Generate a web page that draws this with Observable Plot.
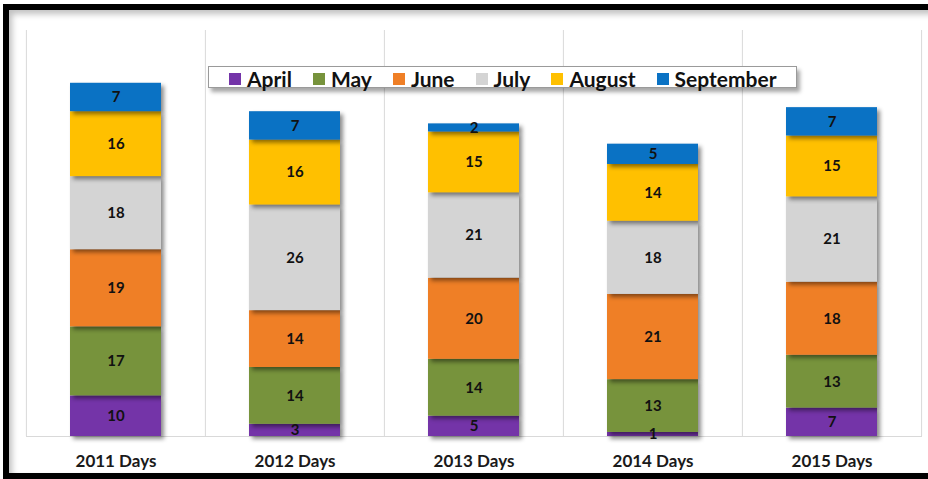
<!DOCTYPE html>
<html><head><meta charset="utf-8">
<script src="https://cdn.jsdelivr.net/npm/d3@7"></script>
<script src="https://cdn.jsdelivr.net/npm/@observablehq/plot@0.6"></script>
<style>
body{margin:0;background:#fff;font-family:Lato,"Open Sans",sans-serif}
#wrap{position:relative;width:928px;height:479px;overflow:hidden;background:#fff}
#frame{position:absolute;left:3px;top:4px;width:960px;height:475px;border:6px solid #000;box-sizing:border-box;box-shadow:inset 3px 4px 6px rgba(0,0,0,.25);pointer-events:none}
#legend{position:absolute;left:208px;top:66px;width:589px;height:22px;box-sizing:border-box;border:1px solid #9a9a9a;background:#fff;box-shadow:3px 4px 4px rgba(0,0,0,.35);display:flex;align-items:center;padding-left:20px;padding-top:3px;font-weight:700;font-size:21px;line-height:18px;color:#111}
#legend .it{display:flex;align-items:center;margin-right:21px}
#legend .sw{width:12px;height:12px;margin-right:6px}
g[aria-label="bar"] rect{filter:drop-shadow(3px 3px 2px rgba(0,0,0,.45))}
</style>
</head><body>
<div id="wrap"><div id="chart"></div><div id="legend"></div><div id="frame"></div></div>
<script>
const years = ["2011 Days","2012 Days","2013 Days","2014 Days","2015 Days"];
const months = ["April","May","June","July","August","September"];
const april = [10,3,5,1,7];
const may = [17,14,14,13,13];
const june = [19,14,20,21,18];
const july = [18,26,21,18,21];
const august = [16,16,15,14,15];
const september = [7,7,2,5,7];
const colors = ["#7434a8","#77933c","#ef7f26","#d4d4d4","#ffc000","#0a72c4"];

const series = [april, may, june, july, august, september];
const rows = [];
years.forEach((y, i) => months.forEach((m, j) => rows.push({year: y, month: m, value: series[j][i]})));

const step = (928 - 26 - 6) / years.length;

const chart = Plot.plot({
  width: 928, height: 479,
  marginLeft: 26, marginRight: 6, marginTop: 30, marginBottom: 43,
  style: {fontFamily: "Lato, sans-serif", background: "transparent"},
  x: {domain: years, paddingInner: 0.49, paddingOuter: 0.245, label: null},
  y: {domain: [0, 100], axis: null},
  color: {domain: months, range: colors},
  marks: [
    Plot.ruleX(years, {x: d => d, y1: 0, y2: 100, dx: -step/2, stroke: "#d9d9d9"}),
    Plot.ruleX(years.slice(-1), {x: d => d, y1: 0, y2: 100, dx: step/2, stroke: "#d9d9d9"}),
    Plot.ruleY([0], {stroke: "#d9d9d9"}),
    Plot.barY(rows, {x: "year", y: "value", z: "month", fill: "month", order: null}),
    Plot.text(rows, Plot.stackY({x: "year", y: "value", z: "month", text: d => String(d.value), order: null, fill: "#111", fontWeight: 700, fontSize: 15})),
    Plot.axisX({tickSize: 0, tickPadding: 18, fontSize: 17, fontWeight: 700, fill: "#1a1a1a"})
  ]
});
document.getElementById("chart").appendChild(chart);

const lg = document.getElementById("legend");
months.forEach((m, i) => {
  const it = document.createElement("div"); it.className = "it";
  const sw = document.createElement("span"); sw.className = "sw"; sw.style.background = colors[i];
  const t = document.createElement("span"); t.textContent = m;
  it.appendChild(sw); it.appendChild(t); lg.appendChild(it);
});
</script>
</body></html>
